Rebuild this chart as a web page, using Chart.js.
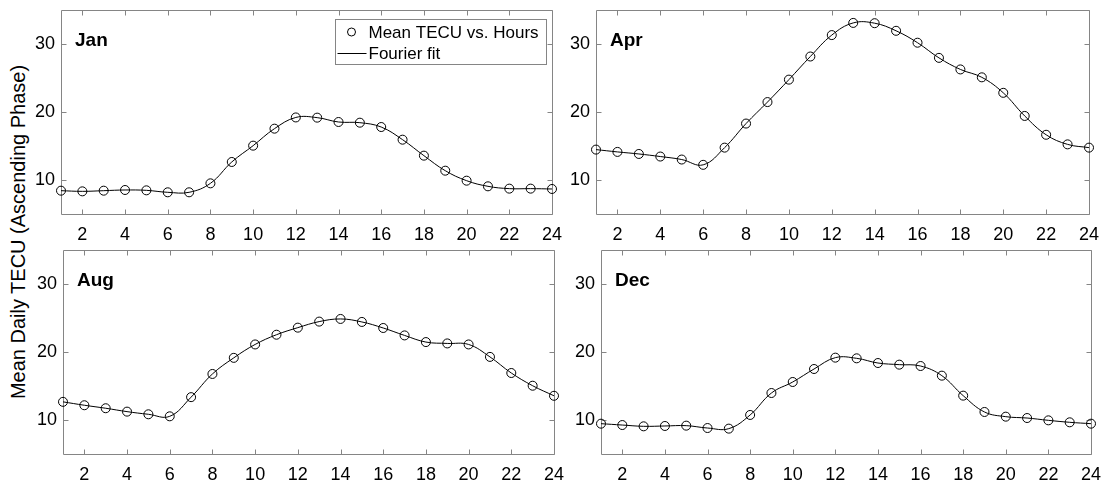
<!DOCTYPE html>
<html><head><meta charset="utf-8">
<script src="https://cdn.jsdelivr.net/npm/chart.js@4.4.1/dist/chart.umd.min.js"></script>
<style>
html,body{margin:0;padding:0;background:#fff;width:1114px;height:485px;overflow:hidden;}
body{position:relative;font-family:"Liberation Sans",Arial,Helvetica,sans-serif;}
canvas{position:absolute;}
#ylab{position:absolute;left:-182px;top:220px;width:400px;height:24px;line-height:24px;text-align:center;font-size:20px;color:#000;transform:rotate(-90deg);transform-origin:50% 50%;white-space:nowrap;}
</style>
</head><body>
<div id="ylab">Mean Daily TECU (Ascending Phase)</div>
<canvas id="c1" width="553" height="252" style="left:21px;top:-8px;width:553px;height:252px"></canvas>
<canvas id="c2" width="555" height="252" style="left:556px;top:-8px;width:555px;height:252px"></canvas>
<canvas id="c3" width="553" height="252" style="left:23px;top:232px;width:553px;height:252px"></canvas>
<canvas id="c4" width="552" height="252" style="left:561px;top:232px;width:552px;height:252px"></canvas>
<script>
const hours = [1,2,3,4,5,6,7,8,9,10,11,12,13,14,15,16,17,18,19,20,21,22,23,24];
const janTECU = [8.43,8.33,8.43,8.53,8.48,8.19,8.19,9.51,12.65,15.05,17.55,19.2,19.17,18.53,18.43,17.79,15.93,13.58,11.37,9.9,9.07,8.73,8.73,8.68];
const aprTECU = [14.47,14.13,13.83,13.45,13.01,12.23,14.76,18.3,21.46,24.76,28.16,31.31,33.1,33.06,31.94,30.19,27.96,26.26,25.1,22.82,19.42,16.65,15.24,14.76];
const augTECU = [12.67,12.17,11.73,11.23,10.84,10.54,13.36,16.77,19.14,21.11,22.54,23.58,24.47,24.86,24.42,23.53,22.44,21.46,21.26,21.11,19.28,16.91,15.04,13.56];
const decTECU = [9.46,9.26,9.07,9.12,9.17,8.82,8.73,10.74,13.97,15.59,17.5,19.17,19.07,18.38,18.14,17.94,16.52,13.58,11.18,10.49,10.29,9.95,9.66,9.46];
const xTicks = [2,4,6,8,10,12,14,16,18,20,22,24];
const yTicks = [10,20,30];
const panelTitles = ['Jan','Apr','Aug','Dec'];
const seriesNames = ['Mean TECU vs. Hours','Fourier fit'];

const FONT = '"Liberation Sans",Arial,Helvetica,sans-serif';
const FRAME = '#858585';

const framePlugin = {
  id:'matlabFrame',
  beforeDatasetsDraw(chart){
    const {ctx, chartArea:ca, scales} = chart;
    ctx.save();
    ctx.strokeStyle = FRAME; ctx.lineWidth = 1;
    const L = Math.round(ca.left)+0.5, R = Math.round(ca.right)+0.5, T = Math.round(ca.top)+0.5, B = Math.round(ca.bottom)+0.5;
    ctx.beginPath();
    ctx.rect(L, T, R-L, B-T);
    const tl = 5;
    xTicks.forEach(v=>{
      const px = Math.round(scales.x.getPixelForValue(v))+0.5;
      ctx.moveTo(px,B); ctx.lineTo(px,B-tl);
      ctx.moveTo(px,T); ctx.lineTo(px,T+tl);
    });
    yTicks.forEach(v=>{
      const py = Math.round(scales.y.getPixelForValue(v))+0.5;
      ctx.moveTo(L,py); ctx.lineTo(L+tl,py);
      ctx.moveTo(R,py); ctx.lineTo(R-tl,py);
    });
    ctx.stroke();
    ctx.restore();
  },
  afterDraw(chart, args, opts){
    const {ctx, chartArea:ca} = chart;
    ctx.save();
    ctx.fillStyle = '#000';
    ctx.font = 'bold 19px ' + FONT;
    ctx.textBaseline = 'alphabetic';
    ctx.textAlign = 'left';
    ctx.fillText(opts.title, ca.left+14, ca.top+36);
    if (opts.legend) {
      const bw = 211, bh = 45;
      const bx = Math.round(ca.right - 6 - bw)+0.5, by = Math.round(ca.top + 9)+0.5;
      ctx.fillStyle = '#fff';
      ctx.fillRect(bx, by, bw, bh);
      ctx.strokeStyle = FRAME; ctx.lineWidth = 1;
      ctx.strokeRect(bx, by, bw, bh);
      const r1 = by + 12.5, r2 = by + 34;
      ctx.strokeStyle = '#000';
      ctx.beginPath(); ctx.arc(bx+16, r1, 4, 0, Math.PI*2); ctx.stroke();
      ctx.beginPath(); ctx.moveTo(bx+2, r2); ctx.lineTo(bx+31, r2); ctx.stroke();
      ctx.fillStyle = '#000';
      ctx.font = '17px ' + FONT;
      ctx.textBaseline = 'middle';
      ctx.fillText(seriesNames[0], bx+33, r1+1);
      ctx.fillText(seriesNames[1], bx+33, r2+1);
    }
    ctx.restore();
  }
};

function makeChart(id, idx, values) {
  const pts = hours.map((h,i)=>({x:h, y:values[i]}));
  new Chart(document.getElementById(id), {
    type:'line',
    data:{datasets:[
      {label:seriesNames[1], data:pts, borderColor:'#000', borderWidth:1, pointRadius:0, tension:0.4, fill:false, order:2, clip:false},
      {label:seriesNames[0], data:pts, showLine:false, pointStyle:'circle', pointRadius:4.5, pointBorderWidth:1, pointBorderColor:'#000', pointBackgroundColor:'rgba(0,0,0,0)', order:1, clip:false}
    ]},
    options:{
      responsive:false, animation:false, devicePixelRatio:1, events:[],
      layout:{padding:{top:18,right:22,left:0,bottom:0}},
      plugins:{legend:{display:false}, tooltip:{enabled:false},
        matlabFrame:{title:panelTitles[idx], legend: idx===0}},
      scales:{
        x:{type:'linear', min:1, max:24,
          afterBuildTicks:s=>{s.ticks = xTicks.map(v=>({value:v}));},
          afterFit:s=>{s.height = 30;},
          grid:{display:false, drawTicks:false}, border:{display:false},
          ticks:{padding:10, color:'#000', maxRotation:0, autoSkip:false, font:{family:FONT, size:18}}},
        y:{type:'linear', min:5, max:35,
          afterBuildTicks:s=>{s.ticks = yTicks.map(v=>({value:v}));},
          afterFit:s=>{s.width = 40;},
          grid:{display:false, drawTicks:false}, border:{display:false},
          ticks:{padding:6, color:'#000', font:{family:FONT, size:18}}}
      }
    },
    plugins:[framePlugin]
  });
}
makeChart('c1', 0, janTECU);
makeChart('c2', 1, aprTECU);
makeChart('c3', 2, augTECU);
makeChart('c4', 3, decTECU);
</script>
</body></html>
